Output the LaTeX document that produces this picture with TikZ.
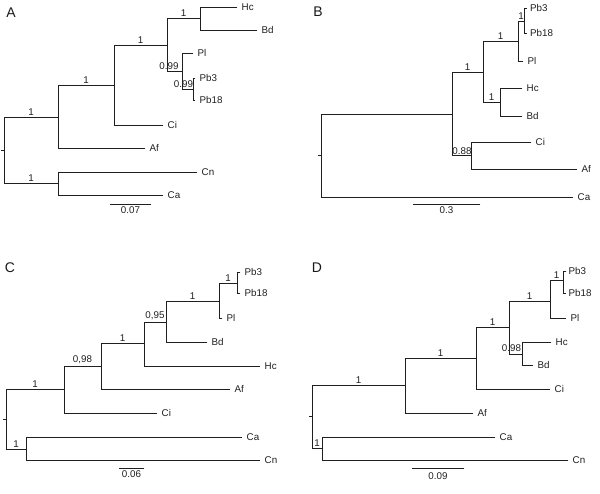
\documentclass[tikz,border=0pt]{standalone}
\usepackage{fontspec}
\setmainfont{Liberation Sans}
\begin{document}
\begin{tikzpicture}[x=1pt,y=-1pt,
  br/.style={line width=0.95pt, draw=black!88, line cap=rect},
  lf/.style={anchor=west, inner sep=0pt, xshift=4.5pt, text=black!88, font=\fontsize{9.8}{10}\selectfont},
  bl/.style={anchor=south, inner sep=0pt, yshift=1.3pt, text=black!88, font=\fontsize{9.8}{10}\selectfont},
  sup/.style={anchor=center, inner sep=0pt, text=black!88, font=\fontsize{9.8}{10}\selectfont},
  sc/.style={anchor=north, inner sep=0pt, text=black!88, font=\fontsize{9.8}{10}\selectfont},
  pl/.style={anchor=center, inner sep=0pt, text=black!90, font=\fontsize{14}{15}\selectfont}]
\useasboundingbox (0,0) rectangle (600,494);
% ================= Panel A =================
\node[pl] (pA) at (11,12.5) {A};
\coordinate (Ar) at (4,150); \coordinate (Art) at (1,150);
\coordinate (A1) at (58,117); \coordinate (A2) at (114,85);
\coordinate (A3) at (167,45); \coordinate (A4) at (200,18);
\coordinate (A5) at (182,71); \coordinate (A6) at (193,89);
\coordinate (A7) at (58,183);
\coordinate (AHc) at (237,7); \coordinate (ABd) at (257,30);
\coordinate (APl) at (193,53); \coordinate (APb3) at (195,78);
\coordinate (APb18) at (195,100); \coordinate (ACi) at (163,125);
\coordinate (AAf) at (145,148); \coordinate (ACn) at (197,172);
\coordinate (ACa) at (163,195);
\draw[br] (Art) -- (Ar);
\draw[br] (Ar) |- node[bl,pos=0.75] (lA1) {1} (A1);
\draw[br] (A1) |- node[bl,pos=0.75] (lA2) {1} (A2);
\draw[br] (A1) |- (AAf);
\draw[br] (A2) |- node[bl,pos=0.75] (lA3) {1} (A3);
\draw[br] (A2) |- (ACi);
\draw[br] (A3) |- node[bl,pos=0.75] (lA4) {1} (A4);
\draw[br] (A3) |- (A5);
\draw[br] (A4) |- (AHc);
\draw[br] (A4) |- (ABd);
\draw[br] (A5) |- (APl);
\draw[br] (A5) |- (A6);
\draw[br] (A6) |- (APb3);
\draw[br] (A6) |- (APb18);
\draw[br] (Ar) |- node[bl,pos=0.75] (lA7) {1} (A7);
\draw[br] (A7) |- (ACn);
\draw[br] (A7) |- (ACa);
\node[sup] (lA5) at (169,66) {0.99};
\node[sup] (lA6) at (183.5,84) {0.99};
\node[lf] (tAHc) at (AHc) {Hc};
\node[lf] (tABd) at (ABd) {Bd};
\node[lf] (tAPl) at (APl) {Pl};
\node[lf] (tAPb3) at (APb3) {Pb3};
\node[lf] (tAPb18) at (APb18) {Pb18};
\node[lf] (tACi) at (ACi) {Ci};
\node[lf] (tAAf) at (AAf) {Af};
\node[lf] (tACn) at (ACn) {Cn};
\node[lf] (tACa) at (ACa) {Ca};
\coordinate (As1) at (110,204); \coordinate (As2) at (151,204);
\draw[br] (As1) -- node[sc,pos=0.5,yshift=-2.5pt] (tAs) {0.07} (As2);
% ================= Panel B =================
\node[pl] (pB) at (318,12) {B};
\coordinate (Br) at (321,155); \coordinate (Brt) at (318,155);
\coordinate (B1) at (452,114); \coordinate (B2) at (483,72);
\coordinate (B3) at (518,41); \coordinate (B4) at (524,21);
\coordinate (B5) at (500,102); \coordinate (B6) at (471,155);
\coordinate (BPb3) at (526.5,8); \coordinate (BPb18) at (526.5,33);
\coordinate (BPl) at (523,61); \coordinate (BHc) at (522,88);
\coordinate (BBd) at (522,116); \coordinate (BCi) at (531,142);
\coordinate (BAf) at (577,169); \coordinate (BCa) at (573,197);
\draw[br] (Brt) -- (Br);
\draw[br] (Br) |- (B1);
\draw[br] (B1) |- node[bl,pos=0.75] (lB2) {1} (B2);
\draw[br] (B1) |- (B6);
\draw[br] (B2) |- node[bl,pos=0.75] (lB3) {1} (B3);
\draw[br] (B2) |- node[bl,pos=0.75] (lB5) {1} (B5);
\draw[br] (B3) |- node[bl,pos=0.75] (lB4) {1} (B4);
\draw[br] (B3) |- (BPl);
\draw[br] (B4) |- (BPb3);
\draw[br] (B4) |- (BPb18);
\draw[br] (B5) |- (BHc);
\draw[br] (B5) |- (BBd);
\draw[br] (B6) |- (BCi);
\draw[br] (B6) |- (BAf);
\draw[br] (Br) |- (BCa);
\node[sup] (lB6) at (462,151.3) {0.88};
\node[lf,xshift=-1pt] (tBPb3) at (BPb3) {Pb3};
\node[lf,xshift=-1pt] (tBPb18) at (BPb18) {Pb18};
\node[lf] (tBPl) at (BPl) {Pl};
\node[lf] (tBHc) at (BHc) {Hc};
\node[lf] (tBBd) at (BBd) {Bd};
\node[lf] (tBCi) at (BCi) {Ci};
\node[lf] (tBAf) at (BAf) {Af};
\node[lf] (tBCa) at (BCa) {Ca};
\coordinate (Bs1) at (413,204); \coordinate (Bs2) at (480,204);
\draw[br] (Bs1) -- node[sc,pos=0.5,yshift=-2.5pt] (tBs) {0.3} (Bs2);
% ================= Panel C =================
\node[pl] (pC) at (10,268) {C};
\coordinate (Cr) at (6,419); \coordinate (Crt) at (3,419);
\coordinate (C1) at (64,389); \coordinate (C2) at (101,366);
\coordinate (C3) at (144,343); \coordinate (C4) at (166,322);
\coordinate (C5) at (219,301); \coordinate (C6) at (237,283);
\coordinate (C7) at (26,449);
\coordinate (CPb3) at (240,272); \coordinate (CPb18) at (240,293);
\coordinate (CPl) at (222,318); \coordinate (CBd) at (207,342);
\coordinate (CHc) at (260,366); \coordinate (CAf) at (230,389);
\coordinate (CCi) at (157,413); \coordinate (CCa) at (242,437);
\coordinate (CCn) at (260,460);
\draw[br] (Crt) -- (Cr);
\draw[br] (Cr) |- node[bl,pos=0.75] (lC1) {1} (C1);
\draw[br] (C1) |- node[bl,pos=0.75] (lC2) {0,98} (C2);
\draw[br] (C1) |- (CCi);
\draw[br] (C2) |- node[bl,pos=0.75] (lC3) {1} (C3);
\draw[br] (C2) |- (CAf);
\draw[br] (C3) |- node[bl,pos=0.75] (lC4) {0,95} (C4);
\draw[br] (C3) |- (CHc);
\draw[br] (C4) |- node[bl,pos=0.75] (lC5) {1} (C5);
\draw[br] (C4) |- (CBd);
\draw[br] (C5) |- node[bl,pos=0.75] (lC6) {1} (C6);
\draw[br] (C5) |- (CPl);
\draw[br] (C6) |- (CPb3);
\draw[br] (C6) |- (CPb18);
\draw[br] (Cr) |- node[bl,pos=0.75] (lC7) {1} (C7);
\draw[br] (C7) |- (CCa);
\draw[br] (C7) |- (CCn);
\node[lf] (tCPb3) at (CPb3) {Pb3};
\node[lf] (tCPb18) at (CPb18) {Pb18};
\node[lf] (tCPl) at (CPl) {Pl};
\node[lf] (tCBd) at (CBd) {Bd};
\node[lf] (tCHc) at (CHc) {Hc};
\node[lf] (tCAf) at (CAf) {Af};
\node[lf] (tCCi) at (CCi) {Ci};
\node[lf] (tCCa) at (CCa) {Ca};
\node[lf] (tCCn) at (CCn) {Cn};
\coordinate (Cs1) at (119,468); \coordinate (Cs2) at (144,468);
\draw[br] (Cs1) -- node[sc,pos=0.5,yshift=-1.8pt] (tCs) {0.06} (Cs2);
% ================= Panel D =================
\node[pl] (pD) at (317,268) {D};
\coordinate (Dr) at (312,416); \coordinate (Drt) at (309,416);
\coordinate (D1) at (405,385); \coordinate (D2) at (476,358);
\coordinate (D3) at (509,327); \coordinate (D4) at (550,301);
\coordinate (D5) at (563,280); \coordinate (D6) at (522,354);
\coordinate (D7) at (322,448);
\coordinate (DPb3) at (566,271); \coordinate (DPb18) at (566,293);
\coordinate (DPl) at (566,318); \coordinate (DHc) at (551,342);
\coordinate (DBd) at (533,365); \coordinate (DCi) at (550,389);
\coordinate (DAf) at (473,413); \coordinate (DCa) at (495,437);
\coordinate (DCn) at (568,460);
\draw[br] (Drt) -- (Dr);
\draw[br] (Dr) |- node[bl,pos=0.75] (lD1) {1} (D1);
\draw[br] (D1) |- node[bl,pos=0.75] (lD2) {1} (D2);
\draw[br] (D1) |- (DAf);
\draw[br] (D2) |- node[bl,pos=0.75] (lD3) {1} (D3);
\draw[br] (D2) |- (DCi);
\draw[br] (D3) |- node[bl,pos=0.75] (lD4) {1} (D4);
\draw[br] (D3) |- (D6);
\draw[br] (D4) |- node[bl,pos=0.75] (lD5) {1} (D5);
\draw[br] (D4) |- (DPl);
\draw[br] (D5) |- (DPb3);
\draw[br] (D5) |- (DPb18);
\draw[br] (D6) |- (DHc);
\draw[br] (D6) |- (DBd);
\draw[br] (Dr) |- node[bl,pos=0.75] (lD7) {1} (D7);
\draw[br] (D7) |- (DCa);
\draw[br] (D7) |- (DCn);
\node[sup] (lD6) at (511.5,348.3) {0.98};
\node[lf,xshift=-2pt] (tDPb3) at (DPb3) {Pb3};
\node[lf,xshift=-2pt] (tDPb18) at (DPb18) {Pb18};
\node[lf] (tDPl) at (DPl) {Pl};
\node[lf] (tDHc) at (DHc) {Hc};
\node[lf] (tDBd) at (DBd) {Bd};
\node[lf] (tDCi) at (DCi) {Ci};
\node[lf] (tDAf) at (DAf) {Af};
\node[lf] (tDCa) at (DCa) {Ca};
\node[lf] (tDCn) at (DCn) {Cn};
\coordinate (Ds1) at (412,468); \coordinate (Ds2) at (464,468);
\draw[br] (Ds1) -- node[sc,pos=0.5,yshift=-4pt] (tDs) {0.09} (Ds2);
\end{tikzpicture}
\end{document}
